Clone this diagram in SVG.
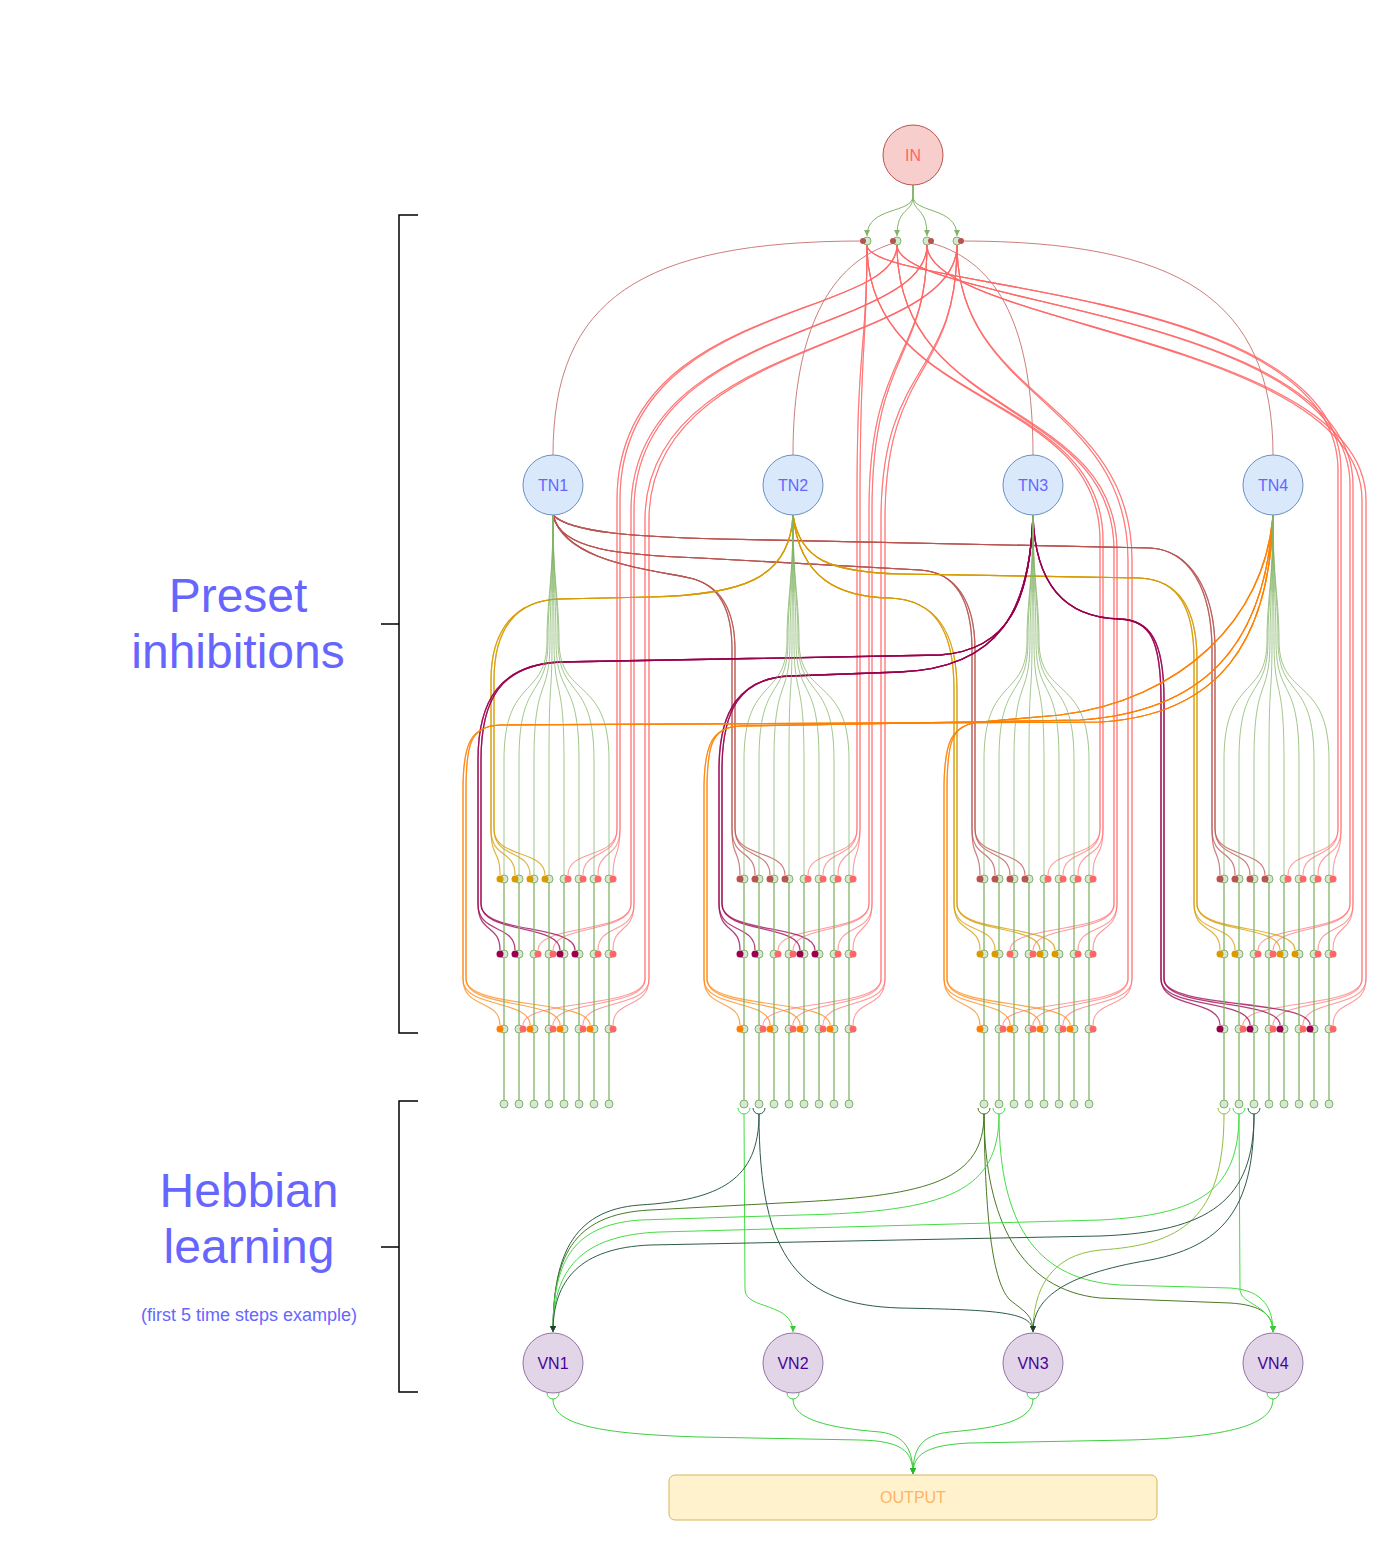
<svg xmlns="http://www.w3.org/2000/svg" xmlns:xlink="http://www.w3.org/1999/xlink" width="1396" height="1546" viewBox="0 0 1396 1546">
<style>
text{font-family:"Liberation Sans",Arial,sans-serif;text-anchor:middle}
.lbl{font-size:48px;fill:#6666ff}
.sm{font-size:18px;fill:#6666ff}
.nt{font-size:16px}
.fan{fill:none;stroke:#82b366;stroke-width:1;stroke-opacity:.75}
.vl{stroke:#82b366;stroke-width:1.3}
.gd{fill:#d5e8d4;stroke:#82b366;stroke-width:1}
.r{fill:none;stroke:#ff6666;stroke-width:1.1;stroke-opacity:.65}
.thin{fill:none;stroke:#b85450;stroke-width:1;stroke-opacity:.75}
.b{fill:none;stroke:#b85450;stroke-width:1.2;stroke-opacity:.75}
.y{fill:none;stroke:#d79b00;stroke-width:1.2;stroke-opacity:.75}
.p{fill:none;stroke:#99004d;stroke-width:1.3;stroke-opacity:.75}
.o{fill:none;stroke:#ff8000;stroke-width:1.2;stroke-opacity:.7}
.br{fill:none;stroke:#000;stroke-width:1.5}
.hL{fill:none;stroke:#44dd44;stroke-width:1}
.hD{fill:none;stroke:#2e5c46;stroke-width:1}
.hO{fill:none;stroke:#4a7a23;stroke-width:1}
.hY{fill:none;stroke:#8fbf40;stroke-width:1}
.out{fill:none;stroke:#3ecf3e;stroke-width:1}
.ig{fill:none;stroke:#82b366;stroke-width:1}
</style>
<defs>
<marker id="aG" viewBox="0 0 10 10" refX="10" refY="5" markerWidth="6" markerHeight="6" orient="auto"><path d="M0 0L10 5L0 10z" fill="#82b366"/></marker>
<marker id="aL" viewBox="0 0 10 10" refX="10" refY="5" markerWidth="6" markerHeight="6" orient="auto"><path d="M0 0L10 5L0 10z" fill="#33cc33"/></marker>
<marker id="aD" viewBox="0 0 10 10" refX="10" refY="5" markerWidth="6" markerHeight="6" orient="auto"><path d="M0 0L10 5L0 10z" fill="#1f3d2e"/></marker>
<marker id="aO" viewBox="0 0 10 10" refX="10" refY="5" markerWidth="6" markerHeight="6" orient="auto"><path d="M0 0L10 5L0 10z" fill="#3d6619"/></marker>
<marker id="aY" viewBox="0 0 10 10" refX="10" refY="5" markerWidth="6" markerHeight="6" orient="auto"><path d="M0 0L10 5L0 10z" fill="#80b030"/></marker>
<marker id="aOut" viewBox="0 0 10 10" refX="10" refY="5" markerWidth="6" markerHeight="6" orient="auto"><path d="M0 0L10 5L0 10z" fill="#22bb22"/></marker>
<g id="sk">
<path class="fan" d="M553 515C553 580 547 600 547 640C547 700 504 675 504 760L504 875"/>
<path class="fan" d="M553 515C553 580 548 600 548 640C548 700 519 675 519 760L519 875"/>
<path class="fan" d="M553 515C553 580 550 600 550 640C550 700 534 675 534 760L534 875"/>
<path class="fan" d="M553 515C553 580 552 600 552 640C552 700 549 675 549 760L549 875"/>
<path class="fan" d="M553 515C553 580 554 600 554 640C554 700 564 675 564 760L564 875"/>
<path class="fan" d="M553 515C553 580 556 600 556 640C556 700 579 675 579 760L579 875"/>
<path class="fan" d="M553 515C553 580 558 600 558 640C558 700 594 675 594 760L594 875"/>
<path class="fan" d="M553 515C553 580 559 600 559 640C559 700 609 675 609 760L609 875"/>
<path class="vl" d="M504 879V1104M519 879V1104M534 879V1104M549 879V1104M564 879V1104M579 879V1104M594 879V1104M609 879V1104"/>
<g class="gd">
<circle cx="504" cy="879" r="4"/><circle cx="519" cy="879" r="4"/><circle cx="534" cy="879" r="4"/><circle cx="549" cy="879" r="4"/><circle cx="564" cy="879" r="4"/><circle cx="579" cy="879" r="4"/><circle cx="594" cy="879" r="4"/><circle cx="609" cy="879" r="4"/>
<circle cx="504" cy="954" r="4"/><circle cx="519" cy="954" r="4"/><circle cx="534" cy="954" r="4"/><circle cx="549" cy="954" r="4"/><circle cx="564" cy="954" r="4"/><circle cx="579" cy="954" r="4"/><circle cx="594" cy="954" r="4"/><circle cx="609" cy="954" r="4"/>
<circle cx="504" cy="1029" r="4"/><circle cx="519" cy="1029" r="4"/><circle cx="534" cy="1029" r="4"/><circle cx="549" cy="1029" r="4"/><circle cx="564" cy="1029" r="4"/><circle cx="579" cy="1029" r="4"/><circle cx="594" cy="1029" r="4"/><circle cx="609" cy="1029" r="4"/>
<circle cx="504" cy="1104" r="4"/><circle cx="519" cy="1104" r="4"/><circle cx="534" cy="1104" r="4"/><circle cx="549" cy="1104" r="4"/><circle cx="564" cy="1104" r="4"/><circle cx="579" cy="1104" r="4"/><circle cx="594" cy="1104" r="4"/><circle cx="609" cy="1104" r="4"/>
</g>
</g>
</defs>
<rect width="1396" height="1546" fill="#ffffff"/>

<g id="labels">
<text class="lbl" x="238" y="612">Preset</text>
<text class="lbl" x="238" y="668">inhibitions</text>
<text class="lbl" x="249" y="1207">Hebbian</text>
<text class="lbl" x="249" y="1263">learning</text>
<text class="sm" x="249" y="1321">(first 5 time steps example)</text>
</g>
<g id="brackets">
<path class="br" d="M418 215H399V1033H418M381 624H399"/>
<path class="br" d="M418 1101H399V1392H418M381 1247H399"/>
</g>

<g id="connectors">
<path class="ig" marker-end="url(#aG)" d="M913 185L913 196C913 214 867 206 867 236"/>
<path class="ig" marker-end="url(#aG)" d="M913 185L913 196C913 214 897 206 897 236"/>
<path class="ig" marker-end="url(#aG)" d="M913 185L913 196C913 214 927 206 927 236"/>
<path class="ig" marker-end="url(#aG)" d="M913 185L913 196C913 214 957 206 957 236"/>
<path class="thin" d="M863 241C640 241 553 300 553 455"/>
<path class="thin" d="M894 243C830 262 793 330 793 455"/>
<path class="thin" d="M931 243C1000 262 1033 330 1033 455"/>
<path class="thin" d="M961 241C1180 241 1273 300 1273 455"/>

<!-- red: TN1 subtree -->
<path class="r" d="M897 245C897 320 617 300 617 500L617 829C617 859 568 849 568 875"/>
<path class="r" d="M897 245C897 320 617 300 617 500L617 829C617 859 583 849 583 875"/>
<path class="r" d="M897 245C897 320 620 300 620 500L620 829C620 859 598 849 598 875"/>
<path class="r" d="M897 245C897 320 620 300 620 500L620 829C620 859 613 849 613 875"/>
<path class="r" d="M927 245C927 335 631 320 631 510L631 904C631 934 538 924 538 950"/>
<path class="r" d="M927 245C927 335 631 320 631 510L631 904C631 934 553 924 553 950"/>
<path class="r" d="M927 245C927 335 634 320 634 510L634 904C634 934 598 924 598 950"/>
<path class="r" d="M927 245C927 335 634 320 634 510L634 904C634 934 613 924 613 950"/>
<path class="r" d="M957 245C957 350 645 335 645 520L645 979C645 1009 523 999 523 1025"/>
<path class="r" d="M957 245C957 350 645 335 645 520L645 979C645 1009 553 999 553 1025"/>
<path class="r" d="M957 245C957 350 649 335 649 520L649 979C649 1009 583 999 583 1025"/>
<path class="r" d="M957 245C957 350 649 335 649 520L649 979C649 1009 613 999 613 1025"/>
<!-- TN2 subtree -->
<path class="r" d="M867 245C867 350 857 340 857 500L857 829C857 859 808 849 808 875"/>
<path class="r" d="M867 245C867 350 857 340 857 500L857 829C857 859 823 849 823 875"/>
<path class="r" d="M867 245C867 350 860 340 860 500L860 829C860 859 838 849 838 875"/>
<path class="r" d="M867 245C867 350 860 340 860 500L860 829C860 859 853 849 853 875"/>
<path class="r" d="M927 245C927 360 869 350 869 510L869 904C869 934 778 924 778 950"/>
<path class="r" d="M927 245C927 360 869 350 869 510L869 904C869 934 793 924 793 950"/>
<path class="r" d="M927 245C927 360 872 350 872 510L872 904C872 934 838 924 838 950"/>
<path class="r" d="M927 245C927 360 872 350 872 510L872 904C872 934 853 924 853 950"/>
<path class="r" d="M957 245C957 380 881 360 881 520L881 979C881 1009 763 999 763 1025"/>
<path class="r" d="M957 245C957 380 881 360 881 520L881 979C881 1009 793 999 793 1025"/>
<path class="r" d="M957 245C957 380 885 360 885 520L885 979C885 1009 823 999 823 1025"/>
<path class="r" d="M957 245C957 380 885 360 885 520L885 979C885 1009 853 999 853 1025"/>
<!-- TN3 subtree -->
<path class="r" d="M867 245C867 410 1100 390 1100 540L1100 829C1100 859 1048 849 1048 875"/>
<path class="r" d="M867 245C867 410 1100 390 1100 540L1100 829C1100 859 1063 849 1063 875"/>
<path class="r" d="M867 245C867 410 1103 390 1103 540L1103 829C1103 859 1078 849 1078 875"/>
<path class="r" d="M867 245C867 410 1103 390 1103 540L1103 829C1103 859 1093 849 1093 875"/>
<path class="r" d="M897 245C897 420 1114 400 1114 550L1114 904C1114 934 1010 924 1010 950"/>
<path class="r" d="M897 245C897 420 1114 400 1114 550L1114 904C1114 934 1033 924 1033 950"/>
<path class="r" d="M897 245C897 420 1117 400 1117 550L1117 904C1117 934 1078 924 1078 950"/>
<path class="r" d="M897 245C897 420 1117 400 1117 550L1117 904C1117 934 1093 924 1093 950"/>
<path class="r" d="M957 245C957 400 1128 400 1128 560L1128 979C1128 1009 1003 999 1003 1025"/>
<path class="r" d="M957 245C957 400 1128 400 1128 560L1128 979C1128 1009 1033 999 1033 1025"/>
<path class="r" d="M957 245C957 400 1132 400 1132 560L1132 979C1132 1009 1063 999 1063 1025"/>
<path class="r" d="M957 245C957 400 1132 400 1132 560L1132 979C1132 1009 1093 999 1093 1025"/>
<!-- TN4 subtree -->
<path class="r" d="M867 245C867 290 1338 285 1338 470L1338 829C1338 859 1288 849 1288 875"/>
<path class="r" d="M867 245C867 290 1338 285 1338 470L1338 829C1338 859 1303 849 1303 875"/>
<path class="r" d="M867 245C867 290 1341 285 1341 470L1341 829C1341 859 1318 849 1318 875"/>
<path class="r" d="M867 245C867 290 1341 285 1341 470L1341 829C1341 859 1333 849 1333 875"/>
<path class="r" d="M897 245C897 305 1350 310 1350 485L1350 904C1350 934 1258 924 1258 950"/>
<path class="r" d="M897 245C897 305 1350 310 1350 485L1350 904C1350 934 1273 924 1273 950"/>
<path class="r" d="M897 245C897 305 1353 310 1353 485L1353 904C1353 934 1318 924 1318 950"/>
<path class="r" d="M897 245C897 305 1353 310 1353 485L1353 904C1353 934 1333 924 1333 950"/>
<path class="r" d="M927 245C927 325 1362 340 1362 500L1362 979C1362 1009 1243 999 1243 1025"/>
<path class="r" d="M927 245C927 325 1362 340 1362 500L1362 979C1362 1009 1273 999 1273 1025"/>
<path class="r" d="M927 245C927 325 1366 340 1366 500L1366 979C1366 1009 1303 999 1303 1025"/>
<path class="r" d="M927 245C927 325 1366 340 1366 500L1366 979C1366 1009 1333 999 1333 1025"/>

<!-- TN1 (brown) -->
<path class="b" d="M553 515C565 560 640 568 690 578C720 585 732 610 732 650L732 829C732 859 740 849 740 875"/>
<path class="b" d="M553 515C565 560 640 568 690 578C720 585 732 610 732 650L732 829C732 859 755 849 755 875"/>
<path class="b" d="M553 515C565 560 640 568 690 578C720 585 735 610 735 650L735 829C735 859 770 849 770 875"/>
<path class="b" d="M553 515C565 560 640 568 690 578C720 585 735 610 735 650L735 829C735 859 785 849 785 875"/>
<path class="b" d="M553 515C560 550 620 555 700 558L920 570C955 572 972 600 972 650L972 829C972 859 980 849 980 875"/>
<path class="b" d="M553 515C560 550 620 555 700 558L920 570C955 572 972 600 972 650L972 829C972 859 995 849 995 875"/>
<path class="b" d="M553 515C560 550 620 555 700 558L920 570C955 572 975 600 975 650L975 829C975 859 1010 849 1010 875"/>
<path class="b" d="M553 515C560 550 620 555 700 558L920 570C955 572 975 600 975 650L975 829C975 859 1025 849 1025 875"/>
<path class="b" d="M553 515C570 533 640 537 720 539L1150 548C1190 550 1212 590 1212 650L1212 829C1212 859 1220 849 1220 875"/>
<path class="b" d="M553 515C570 533 640 537 720 539L1150 548C1190 550 1212 590 1212 650L1212 829C1212 859 1235 849 1235 875"/>
<path class="b" d="M553 515C570 533 640 537 720 539L1150 548C1190 550 1215 590 1215 650L1215 829C1215 859 1250 849 1250 875"/>
<path class="b" d="M553 515C570 533 640 537 720 539L1150 548C1190 550 1215 590 1215 650L1215 829C1215 859 1265 849 1265 875"/>
<!-- TN2 (yellow) -->
<path class="y" d="M793 515C790 580 740 595 650 597L560 599C515 600 491 630 491 680L491 829C491 859 500 849 500 875"/>
<path class="y" d="M793 515C790 580 740 595 650 597L560 599C515 600 491 630 491 680L491 829C491 859 515 849 515 875"/>
<path class="y" d="M793 515C790 580 740 595 650 597L560 599C515 600 494 630 494 680L494 829C494 859 530 849 530 875"/>
<path class="y" d="M793 515C790 580 740 595 650 597L560 599C515 600 494 630 494 680L494 829C494 859 545 849 545 875"/>
<path class="y" d="M793 515C800 580 840 597 890 598C935 600 954 630 954 690L954 904C954 934 980 924 980 950"/>
<path class="y" d="M793 515C800 580 840 597 890 598C935 600 954 630 954 690L954 904C954 934 995 924 995 950"/>
<path class="y" d="M793 515C800 580 840 597 890 598C935 600 957 630 957 690L957 904C957 934 1040 924 1040 950"/>
<path class="y" d="M793 515C800 580 840 597 890 598C935 600 957 630 957 690L957 904C957 934 1055 924 1055 950"/>
<path class="y" d="M793 515C800 560 830 572 900 574L1140 578C1180 580 1194 610 1194 660L1194 904C1194 934 1220 924 1220 950"/>
<path class="y" d="M793 515C800 560 830 572 900 574L1140 578C1180 580 1194 610 1194 660L1194 904C1194 934 1235 924 1235 950"/>
<path class="y" d="M793 515C800 560 830 572 900 574L1140 578C1180 580 1197 610 1197 660L1197 904C1197 934 1280 924 1280 950"/>
<path class="y" d="M793 515C800 560 830 572 900 574L1140 578C1180 580 1197 610 1197 660L1197 904C1197 934 1295 924 1295 950"/>
<!-- TN3 (purple) -->
<path class="p" d="M1033 515C1030 600 1010 650 940 655L560 662C500 665 478 700 478 760L478 904C478 934 500 924 500 950"/>
<path class="p" d="M1033 515C1030 600 1010 650 940 655L560 662C500 665 478 700 478 760L478 904C478 934 515 924 515 950"/>
<path class="p" d="M1033 515C1030 600 1010 650 940 655L560 662C500 665 481 700 481 760L481 904C481 934 560 924 560 950"/>
<path class="p" d="M1033 515C1030 600 1010 650 940 655L560 662C500 665 481 700 481 760L481 904C481 934 575 924 575 950"/>
<path class="p" d="M1033 515C1030 610 1000 668 900 672L790 676C740 678 719 710 719 770L719 904C719 934 740 924 740 950"/>
<path class="p" d="M1033 515C1030 610 1000 668 900 672L790 676C740 678 719 710 719 770L719 904C719 934 755 924 755 950"/>
<path class="p" d="M1033 515C1030 610 1000 668 900 672L790 676C740 678 722 710 722 770L722 904C722 934 800 924 800 950"/>
<path class="p" d="M1033 515C1030 610 1000 668 900 672L790 676C740 678 722 710 722 770L722 904C722 934 815 924 815 950"/>
<path class="p" d="M1033 515C1035 590 1070 618 1120 619C1150 620 1161 640 1161 700L1161 979C1161 1009 1220 999 1220 1025"/>
<path class="p" d="M1033 515C1035 590 1070 618 1120 619C1150 620 1161 640 1161 700L1161 979C1161 1009 1250 999 1250 1025"/>
<path class="p" d="M1033 515C1035 590 1070 618 1120 619C1150 620 1164 640 1164 700L1164 979C1164 1009 1280 999 1280 1025"/>
<path class="p" d="M1033 515C1035 590 1070 618 1120 619C1150 620 1164 640 1164 700L1164 979C1164 1009 1310 999 1310 1025"/>
<!-- TN4 (orange) -->
<path class="o" d="M1273 515C1270 640 1220 715 1100 722L500 725C470 726 463 745 463 790L463 979C463 1009 500 999 500 1025"/>
<path class="o" d="M1273 515C1270 640 1220 715 1100 722L500 725C470 726 463 745 463 790L463 979C463 1009 530 999 530 1025"/>
<path class="o" d="M1273 515C1270 640 1220 715 1100 722L500 725C470 726 466 745 466 790L466 979C466 1009 560 999 560 1025"/>
<path class="o" d="M1273 515C1270 640 1220 715 1100 722L500 725C470 726 466 745 466 790L466 979C466 1009 590 999 590 1025"/>
<path class="o" d="M1273 515C1265 650 1200 712 1080 720L740 726C712 727 704 745 704 790L704 979C704 1009 740 999 740 1025"/>
<path class="o" d="M1273 515C1265 650 1200 712 1080 720L740 726C712 727 704 745 704 790L704 979C704 1009 770 999 770 1025"/>
<path class="o" d="M1273 515C1265 650 1200 712 1080 720L740 726C712 727 707 745 707 790L707 979C707 1009 800 999 800 1025"/>
<path class="o" d="M1273 515C1265 650 1200 712 1080 720L740 726C712 727 707 745 707 790L707 979C707 1009 830 999 830 1025"/>
<path class="o" d="M1273 515C1265 620 1180 700 1060 715L980 722C952 725 944 740 944 790L944 979C944 1009 980 999 980 1025"/>
<path class="o" d="M1273 515C1265 620 1180 700 1060 715L980 722C952 725 944 740 944 790L944 979C944 1009 1010 999 1010 1025"/>
<path class="o" d="M1273 515C1265 620 1180 700 1060 715L980 722C952 725 947 740 947 790L947 979C947 1009 1040 999 1040 1025"/>
<path class="o" d="M1273 515C1265 620 1180 700 1060 715L980 722C952 725 947 740 947 790L947 979C947 1009 1070 999 1070 1025"/>

<!-- Hebbian -->
<path class="hL" marker-end="url(#aL)" d="M744 1114L745 1290C746 1310 793 1302 793 1332"/>
<path class="hD" marker-end="url(#aD)" d="M759 1114C759 1180 720 1200 640 1205C570 1210 553 1260 553 1332"/>
<path class="hD" marker-end="url(#aD)" d="M759 1114C759 1260 800 1305 900 1308C1000 1310 1033 1312 1033 1332"/>
<path class="hO" marker-end="url(#aO)" d="M984 1114C984 1180 930 1195 800 1202L650 1210C570 1214 553 1260 553 1332"/>
<path class="hO" marker-end="url(#aO)" d="M984 1114C985 1200 990 1280 1010 1300C1025 1312 1033 1315 1033 1332"/>
<path class="hO" marker-end="url(#aO)" d="M984 1114C985 1220 1020 1290 1100 1298L1230 1303C1262 1305 1273 1315 1273 1332"/>
<path class="hL" marker-end="url(#aL)" d="M999 1114C999 1190 950 1212 800 1215L640 1220C570 1225 553 1265 553 1332"/>
<path class="hL" marker-end="url(#aL)" d="M999 1114C999 1230 1040 1280 1120 1285L1230 1288C1265 1290 1273 1310 1273 1332"/>
<path class="hY" marker-end="url(#aY)" d="M1224 1114C1224 1220 1180 1245 1100 1250C1050 1255 1033 1290 1033 1332"/>
<path class="hL" marker-end="url(#aL)" d="M1239 1114C1239 1190 1200 1215 1100 1220L660 1232C580 1235 553 1270 553 1332"/>
<path class="hL" marker-end="url(#aL)" d="M1239 1114L1240 1290C1241 1305 1273 1305 1273 1332"/>
<path class="hD" marker-end="url(#aD)" d="M1254 1114C1254 1200 1210 1232 1100 1236L650 1245C580 1248 553 1280 553 1332"/>
<path class="hD" marker-end="url(#aD)" d="M1254 1114C1254 1200 1230 1245 1150 1260C1060 1275 1033 1300 1033 1332"/>
<path class="hL" d="M738 1108A6 6 0 0 0 750 1108"/>
<path class="hD" d="M753 1108A6 6 0 0 0 765 1108"/>
<path class="hO" d="M978 1108A6 6 0 0 0 990 1108"/>
<path class="hL" d="M993 1108A6 6 0 0 0 1005 1108"/>
<path class="hY" d="M1218 1108A6 6 0 0 0 1230 1108"/>
<path class="hL" d="M1233 1108A6 6 0 0 0 1245 1108"/>
<path class="hD" d="M1248 1108A6 6 0 0 0 1260 1108"/>
<path class="out" d="M547 1393A6 6 0 0 0 559 1393M787 1393A6 6 0 0 0 799 1393M1027 1393A6 6 0 0 0 1039 1393M1267 1393A6 6 0 0 0 1279 1393"/>
<path class="out" marker-end="url(#aOut)" d="M553 1399C553 1425 600 1434 700 1437L860 1440C900 1441 913 1450 913 1474"/>
<path class="out" marker-end="url(#aOut)" d="M793 1399C793 1420 830 1428 880 1432C905 1435 913 1450 913 1474"/>
<path class="out" marker-end="url(#aOut)" d="M1033 1399C1033 1420 1000 1428 950 1432C920 1435 913 1450 913 1474"/>
<path class="out" marker-end="url(#aOut)" d="M1273 1399C1273 1425 1230 1437 1130 1440L970 1443C925 1445 913 1455 913 1474"/>
</g>

<g id="skeletons">
<use xlink:href="#sk"/>
<use xlink:href="#sk" x="240"/>
<use xlink:href="#sk" x="480"/>
<use xlink:href="#sk" x="720"/>
</g>

<g id="input-dots">
<g class="gd"><circle cx="867" cy="241" r="4"/><circle cx="897" cy="241" r="4"/><circle cx="927" cy="241" r="4"/><circle cx="957" cy="241" r="4"/></g>
<g fill="#b85450"><circle cx="863" cy="241" r="3"/><circle cx="893" cy="241" r="3"/><circle cx="931" cy="241" r="3"/><circle cx="961" cy="241" r="3"/></g>
</g>

<g id="inhibition-dots">
<g fill="#ff6666">
<circle cx="568" cy="879" r="3.5"/><circle cx="583" cy="879" r="3.5"/><circle cx="598" cy="879" r="3.5"/><circle cx="613" cy="879" r="3.5"/>
<circle cx="538" cy="954" r="3.5"/><circle cx="553" cy="954" r="3.5"/><circle cx="598" cy="954" r="3.5"/><circle cx="613" cy="954" r="3.5"/>
<circle cx="523" cy="1029" r="3.5"/><circle cx="553" cy="1029" r="3.5"/><circle cx="583" cy="1029" r="3.5"/><circle cx="613" cy="1029" r="3.5"/>
<circle cx="808" cy="879" r="3.5"/><circle cx="823" cy="879" r="3.5"/><circle cx="838" cy="879" r="3.5"/><circle cx="853" cy="879" r="3.5"/>
<circle cx="778" cy="954" r="3.5"/><circle cx="793" cy="954" r="3.5"/><circle cx="838" cy="954" r="3.5"/><circle cx="853" cy="954" r="3.5"/>
<circle cx="763" cy="1029" r="3.5"/><circle cx="793" cy="1029" r="3.5"/><circle cx="823" cy="1029" r="3.5"/><circle cx="853" cy="1029" r="3.5"/>
<circle cx="1048" cy="879" r="3.5"/><circle cx="1063" cy="879" r="3.5"/><circle cx="1078" cy="879" r="3.5"/><circle cx="1093" cy="879" r="3.5"/>
<circle cx="1010" cy="954" r="3.5"/><circle cx="1033" cy="954" r="3.5"/><circle cx="1078" cy="954" r="3.5"/><circle cx="1093" cy="954" r="3.5"/>
<circle cx="1003" cy="1029" r="3.5"/><circle cx="1033" cy="1029" r="3.5"/><circle cx="1063" cy="1029" r="3.5"/><circle cx="1093" cy="1029" r="3.5"/>
<circle cx="1288" cy="879" r="3.5"/><circle cx="1303" cy="879" r="3.5"/><circle cx="1318" cy="879" r="3.5"/><circle cx="1333" cy="879" r="3.5"/>
<circle cx="1258" cy="954" r="3.5"/><circle cx="1273" cy="954" r="3.5"/><circle cx="1318" cy="954" r="3.5"/><circle cx="1333" cy="954" r="3.5"/>
<circle cx="1243" cy="1029" r="3.5"/><circle cx="1273" cy="1029" r="3.5"/><circle cx="1303" cy="1029" r="3.5"/><circle cx="1333" cy="1029" r="3.5"/>
</g>
<g fill="#b85450">
<circle cx="740" cy="879" r="3.5"/><circle cx="755" cy="879" r="3.5"/><circle cx="770" cy="879" r="3.5"/><circle cx="785" cy="879" r="3.5"/>
<circle cx="980" cy="879" r="3.5"/><circle cx="995" cy="879" r="3.5"/><circle cx="1010" cy="879" r="3.5"/><circle cx="1025" cy="879" r="3.5"/>
<circle cx="1220" cy="879" r="3.5"/><circle cx="1235" cy="879" r="3.5"/><circle cx="1250" cy="879" r="3.5"/><circle cx="1265" cy="879" r="3.5"/>
</g>
<g fill="#d79b00">
<circle cx="500" cy="879" r="3.5"/><circle cx="515" cy="879" r="3.5"/><circle cx="530" cy="879" r="3.5"/><circle cx="545" cy="879" r="3.5"/>
<circle cx="980" cy="954" r="3.5"/><circle cx="995" cy="954" r="3.5"/><circle cx="1040" cy="954" r="3.5"/><circle cx="1055" cy="954" r="3.5"/>
<circle cx="1220" cy="954" r="3.5"/><circle cx="1235" cy="954" r="3.5"/><circle cx="1280" cy="954" r="3.5"/><circle cx="1295" cy="954" r="3.5"/>
</g>
<g fill="#99004d">
<circle cx="500" cy="954" r="3.5"/><circle cx="515" cy="954" r="3.5"/><circle cx="560" cy="954" r="3.5"/><circle cx="575" cy="954" r="3.5"/>
<circle cx="740" cy="954" r="3.5"/><circle cx="755" cy="954" r="3.5"/><circle cx="800" cy="954" r="3.5"/><circle cx="815" cy="954" r="3.5"/>
<circle cx="1220" cy="1029" r="3.5"/><circle cx="1250" cy="1029" r="3.5"/><circle cx="1280" cy="1029" r="3.5"/><circle cx="1310" cy="1029" r="3.5"/>
</g>
<g fill="#ff8000">
<circle cx="500" cy="1029" r="3.5"/><circle cx="530" cy="1029" r="3.5"/><circle cx="560" cy="1029" r="3.5"/><circle cx="590" cy="1029" r="3.5"/>
<circle cx="740" cy="1029" r="3.5"/><circle cx="770" cy="1029" r="3.5"/><circle cx="800" cy="1029" r="3.5"/><circle cx="830" cy="1029" r="3.5"/>
<circle cx="980" cy="1029" r="3.5"/><circle cx="1010" cy="1029" r="3.5"/><circle cx="1040" cy="1029" r="3.5"/><circle cx="1070" cy="1029" r="3.5"/>
</g>
</g>

<g id="IN"><circle cx="913" cy="155" r="30" fill="#f8cecc" stroke="#b85450"/><text class="nt" x="913" y="161" fill="#ff6666">IN</text></g>
<g id="TN1"><circle cx="553" cy="485" r="30" fill="#dae8fc" stroke="#6c8ebf"/><text class="nt" x="553" y="491" fill="#6666ff">TN1</text></g>
<g id="TN2"><circle cx="793" cy="485" r="30" fill="#dae8fc" stroke="#6c8ebf"/><text class="nt" x="793" y="491" fill="#6666ff">TN2</text></g>
<g id="TN3"><circle cx="1033" cy="485" r="30" fill="#dae8fc" stroke="#6c8ebf"/><text class="nt" x="1033" y="491" fill="#6666ff">TN3</text></g>
<g id="TN4"><circle cx="1273" cy="485" r="30" fill="#dae8fc" stroke="#6c8ebf"/><text class="nt" x="1273" y="491" fill="#6666ff">TN4</text></g>
<g id="VN1"><circle cx="553" cy="1363" r="30" fill="#e1d5e7" stroke="#9673a6"/><text class="nt" x="553" y="1369" fill="#4c0099">VN1</text></g>
<g id="VN2"><circle cx="793" cy="1363" r="30" fill="#e1d5e7" stroke="#9673a6"/><text class="nt" x="793" y="1369" fill="#4c0099">VN2</text></g>
<g id="VN3"><circle cx="1033" cy="1363" r="30" fill="#e1d5e7" stroke="#9673a6"/><text class="nt" x="1033" y="1369" fill="#4c0099">VN3</text></g>
<g id="VN4"><circle cx="1273" cy="1363" r="30" fill="#e1d5e7" stroke="#9673a6"/><text class="nt" x="1273" y="1369" fill="#4c0099">VN4</text></g>
<g id="OUTPUT"><rect x="669" y="1475" width="488" height="45" rx="6" fill="#fff2cc" stroke="#d6b656"/><text class="nt" x="913" y="1503" fill="#ffb366">OUTPUT</text></g>
</svg>
